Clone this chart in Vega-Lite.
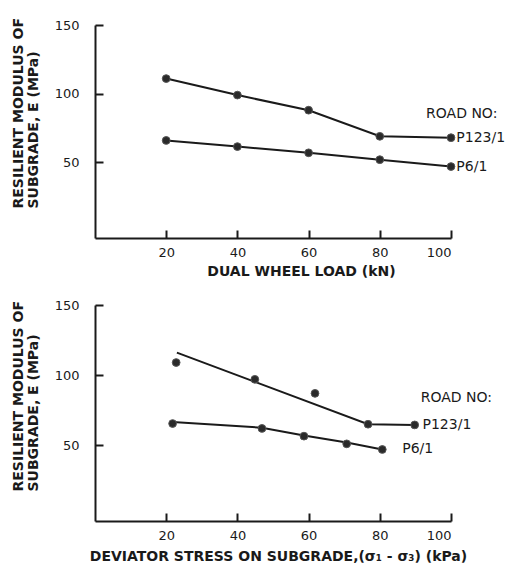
{
  "$schema": "https://vega.github.io/schema/vega-lite/v6.json",
  "padding": {"left": 10, "top": 17, "right": 0, "bottom": 0},
  "spacing": 67,
  "bounds": "flush",
  "background": "white",
  "config": {
    "view": {"stroke": null},
    "font": "DejaVu Sans",
    "axis": {
      "grid": false,
      "domainColor": "#1a1a1a",
      "domainWidth": 2,
      "tickColor": "#1a1a1a",
      "tickWidth": 2,
      "tickSize": -8,
      "labelFont": "DejaVu Sans",
      "labelFontSize": 13,
      "labelColor": "#1a1a1a",
      "titleFont": "DejaVu Sans",
      "titleFontSize": 14,
      "titleFontWeight": "bold",
      "titleColor": "#1a1a1a"
    },
    "text": {"font": "DejaVu Sans", "fontSize": 14, "color": "#1a1a1a"}
  },
  "datasets": {
    "top": [
      {"load": 20, "E": 111, "road": "P123/1"},
      {"load": 40, "E": 99, "road": "P123/1"},
      {"load": 60, "E": 88, "road": "P123/1"},
      {"load": 80, "E": 69, "road": "P123/1"},
      {"load": 100, "E": 68, "road": "P123/1"},
      {"load": 20, "E": 66, "road": "P6/1"},
      {"load": 40, "E": 61.5, "road": "P6/1"},
      {"load": 60, "E": 57, "road": "P6/1"},
      {"load": 80, "E": 52, "road": "P6/1"},
      {"load": 100, "E": 47, "road": "P6/1"}
    ],
    "topLabels": [
      {"x": 93, "y": 85, "label": "ROAD NO:"},
      {"x": 101.5, "y": 68, "label": "P123/1"},
      {"x": 101.5, "y": 47, "label": "P6/1"}
    ],
    "botPts": [
      {"stress": 22.8, "E": 109, "road": "P123/1"},
      {"stress": 44.9, "E": 97, "road": "P123/1"},
      {"stress": 61.8, "E": 87, "road": "P123/1"},
      {"stress": 76.7, "E": 65, "road": "P123/1"},
      {"stress": 89.8, "E": 64.5, "road": "P123/1"},
      {"stress": 21.8, "E": 65.5, "road": "P6/1"},
      {"stress": 46.9, "E": 62, "road": "P6/1"},
      {"stress": 58.7, "E": 56.5, "road": "P6/1"},
      {"stress": 70.7, "E": 51, "road": "P6/1"},
      {"stress": 80.7, "E": 47, "road": "P6/1"}
    ],
    "botFit": [
      {"stress": 23, "E": 116, "road": "P123/1", "o": 1},
      {"stress": 76.7, "E": 65, "road": "P123/1", "o": 2},
      {"stress": 89.8, "E": 64.5, "road": "P123/1", "o": 3},
      {"stress": 21.8, "E": 66.5, "road": "P6/1", "o": 1},
      {"stress": 46.9, "E": 62.5, "road": "P6/1", "o": 2},
      {"stress": 58.7, "E": 57, "road": "P6/1", "o": 3},
      {"stress": 70.7, "E": 52, "road": "P6/1", "o": 4},
      {"stress": 80.7, "E": 47, "road": "P6/1", "o": 5}
    ],
    "botLabels": [
      {"x": 91.5, "y": 84, "label": "ROAD NO:"},
      {"x": 92, "y": 64.5, "label": "P123/1"},
      {"x": 86.3, "y": 47, "label": "P6/1"}
    ]
  },
  "vconcat": [
    {
      "width": 356,
      "height": 213,
      "layer": [
        {
          "data": {"name": "top"},
          "mark": {"type": "line", "color": "#1a1a1a", "strokeWidth": 2},
          "encoding": {
            "x": {"field": "load", "type": "quantitative", "scale": {"domain": [0, 100], "nice": false},
              "axis": {"values": [20, 40, 60, 80, 100], "labelPadding": 16, "title": "DUAL WHEEL LOAD (kN)",
                "titleX": 206, "titleY": 33, "titleAlign": "center", "titleBaseline": "middle"}},
            "y": {"field": "E", "type": "quantitative", "scale": {"domain": [-5, 150], "nice": false},
              "axis": {"values": [50, 100, 150], "labelPadding": 24,
                "title": ["RESILIENT MODULUS OF", "SUBGRADE, E (MPa)"],
                "titleAngle": 270, "titleAlign": "left", "titleBaseline": "top", "titleLineHeight": 15,
                "titleX": -84, "titleY": 183}},
            "detail": {"field": "road"}
          }
        },
        {
          "data": {"name": "top"},
          "mark": {"type": "point", "filled": true, "color": "#2a2a2a", "size": 60, "opacity": 1, "stroke": "#555", "strokeWidth": 1},
          "encoding": {
            "x": {"field": "load", "type": "quantitative"},
            "y": {"field": "E", "type": "quantitative"}
          }
        },
        {
          "data": {"name": "topLabels"},
          "mark": {"type": "text", "align": "left", "baseline": "middle"},
          "encoding": {
            "x": {"field": "x", "type": "quantitative"},
            "y": {"field": "y", "type": "quantitative"},
            "text": {"field": "label"}
          }
        }
      ]
    },
    {
      "width": 356,
      "height": 216,
      "layer": [
        {
          "data": {"name": "botFit"},
          "mark": {"type": "line", "color": "#1a1a1a", "strokeWidth": 2},
          "encoding": {
            "x": {"field": "stress", "type": "quantitative", "scale": {"domain": [0, 100], "nice": false},
              "axis": {"values": [20, 40, 60, 80, 100], "labelPadding": 16,
                "title": "DEVIATOR STRESS ON SUBGRADE,(σ₁ - σ₃) (kPa)",
                "titleX": 183, "titleY": 35, "titleAlign": "center", "titleBaseline": "middle"}},
            "y": {"field": "E", "type": "quantitative", "scale": {"domain": [-4, 150], "nice": false},
              "axis": {"values": [50, 100, 150], "labelPadding": 24,
                "title": ["RESILIENT MODULUS OF", "SUBGRADE, E (MPa)"],
                "titleAngle": 270, "titleAlign": "left", "titleBaseline": "top", "titleLineHeight": 15,
                "titleX": -84, "titleY": 186}},
            "detail": {"field": "road"},
            "order": {"field": "o"}
          }
        },
        {
          "data": {"name": "botPts"},
          "mark": {"type": "point", "filled": true, "color": "#2a2a2a", "size": 60, "opacity": 1, "stroke": "#555", "strokeWidth": 1},
          "encoding": {
            "x": {"field": "stress", "type": "quantitative"},
            "y": {"field": "E", "type": "quantitative"}
          }
        },
        {
          "data": {"name": "botLabels"},
          "mark": {"type": "text", "align": "left", "baseline": "middle"},
          "encoding": {
            "x": {"field": "x", "type": "quantitative"},
            "y": {"field": "y", "type": "quantitative"},
            "text": {"field": "label"}
          }
        }
      ]
    }
  ]
}
